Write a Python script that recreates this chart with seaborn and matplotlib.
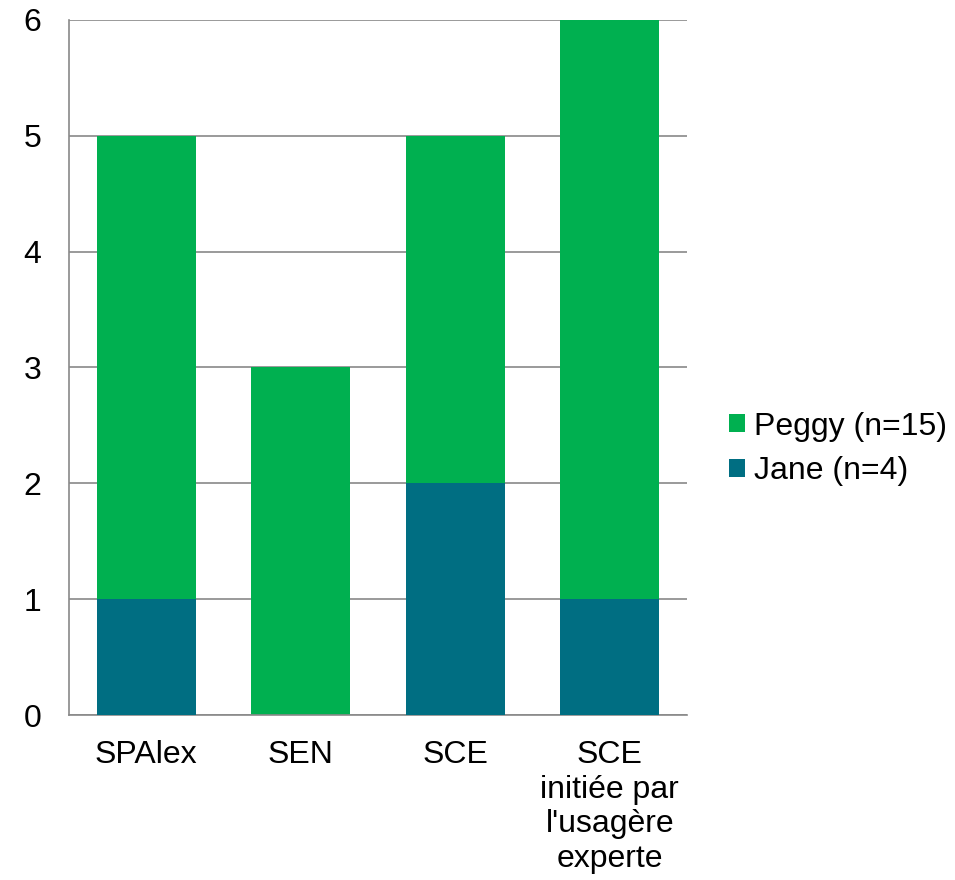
import numpy as np
import pandas as pd
import matplotlib
matplotlib.use("Agg")
import matplotlib.pyplot as plt
import seaborn as sns
from matplotlib.patches import Patch

# DATA

categories = ["SPAlex", "SEN", "SCE", "SCE\ninitiée par\nl'usagère\nexperte"]
jane = [1, 0, 2, 1]
peggy = [4, 3, 3, 5]
series_labels = ["Peggy (n=15)", "Jane (n=4)"]
y_ticks = [0, 1, 2, 3, 4, 5, 6]

green = "#00B050"
teal = "#006E82"
grid_gray = "#898989"

sns.set_theme(style="white")
plt.rcParams["font.family"] = ["Liberation Sans", "DejaVu Sans"]
plt.rcParams["text.color"] = "black"
plt.rcParams["xtick.color"] = "black"
plt.rcParams["ytick.color"] = "black"

df = pd.DataFrame({
    "categorie": categories,
    "jane": jane,
    "total": np.array(jane) + np.array(peggy),
})

fig = plt.figure(figsize=(9.55, 8.8), dpi=100)
ax = fig.add_axes([0.0723, 0.1875, 0.647, 0.7898])

# stacked bars: total in green, Jane drawn over it from the base
sns.barplot(data=df, x="categorie", y="total", color=green, width=0.64,
            saturation=1, linewidth=0, ax=ax, zorder=2)
sns.barplot(data=df, x="categorie", y="jane", color=teal, width=0.64,
            saturation=1, linewidth=0, ax=ax, zorder=3)

ax.set_xlim(-0.5, len(categories) - 0.5)
ax.set_ylim(0, 6)
ax.set_yticks(y_ticks)
ax.set_xlabel("")
ax.set_ylabel("")

ax.yaxis.grid(True, color=grid_gray, linewidth=1.2, zorder=0)
ax.set_axisbelow(True)

for side in ["top", "right"]:
    ax.spines[side].set_visible(False)
for side in ["left", "bottom"]:
    ax.spines[side].set_color(grid_gray)
    ax.spines[side].set_linewidth(1.2)

ax.tick_params(axis="y", length=0, pad=20, labelsize=23, labelcolor="black")
ax.tick_params(axis="x", length=0, pad=18, labelsize=23, labelcolor="black")

handles = [Patch(facecolor=green, edgecolor="none"),
           Patch(facecolor=teal, edgecolor="none")]
fig.legend(handles, series_labels, loc="center left",
           bbox_to_anchor=(0.757, 0.49), frameon=False, fontsize=23,
           handlelength=0.48, handleheight=0.48, handletextpad=0.3,
           labelspacing=0.45, borderpad=0.2, borderaxespad=0)

fig.savefig("out.png", dpi=100)
